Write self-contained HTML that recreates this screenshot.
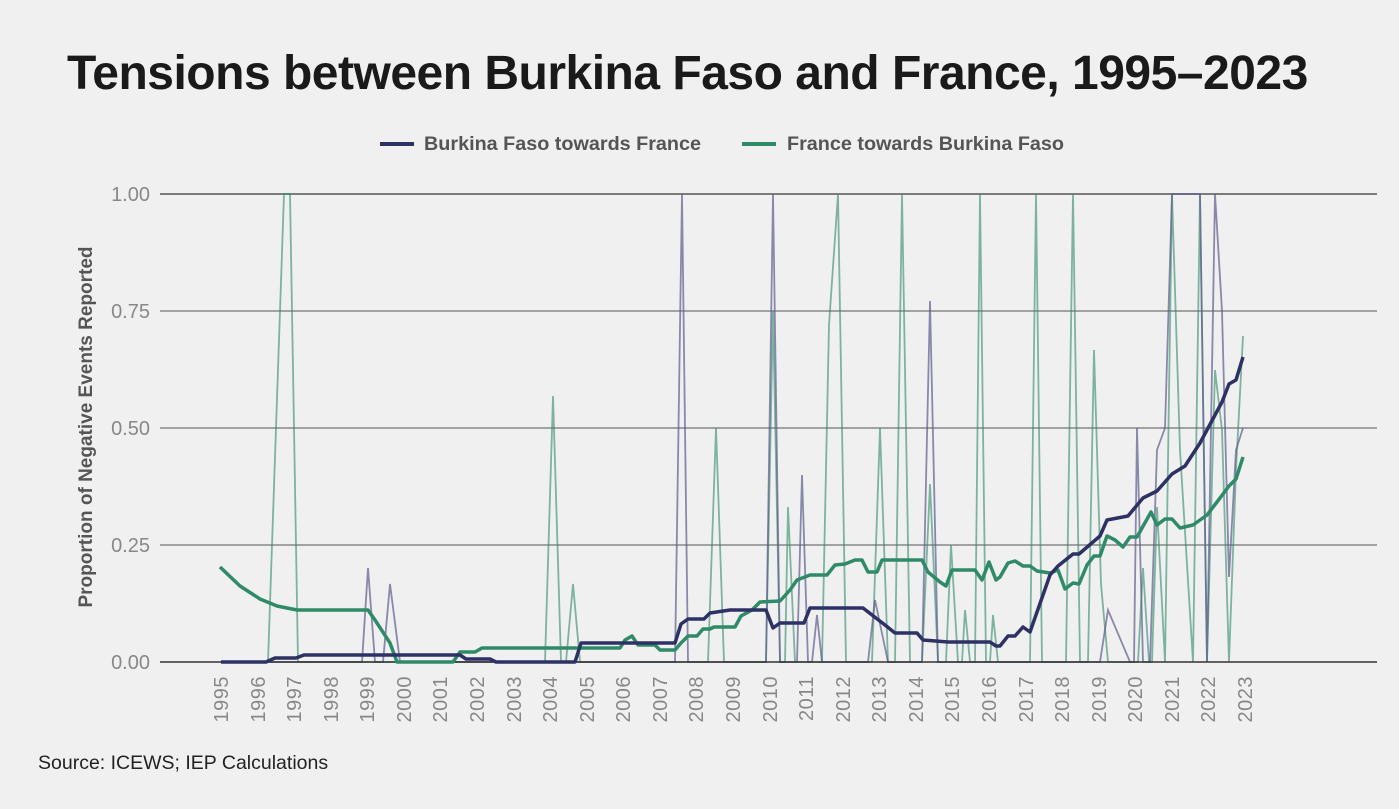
<!DOCTYPE html>
<html><head><style>
body{margin:0;background:#f0f0f0;}
svg{display:block;font-family:"Liberation Sans",sans-serif;}
</style></head><body>
<svg width="1399" height="809" viewBox="0 0 1399 809">
<rect width="1399" height="809" fill="#f0f0f0"/>
<text x="67" y="89" font-size="48" font-weight="bold" fill="#1a1a1a" letter-spacing="-0.5">Tensions between Burkina Faso and France, 1995–2023</text>
<line x1="380" y1="144" x2="414" y2="144" stroke="#2e3164" stroke-width="4"/>
<text x="424" y="150" font-size="19.8" font-weight="bold" fill="#555">Burkina Faso towards France</text>
<line x1="742" y1="144" x2="776" y2="144" stroke="#2f8a68" stroke-width="4"/>
<text x="787" y="150" font-size="19.8" font-weight="bold" fill="#555">France towards Burkina Faso</text>
<g stroke="#888" stroke-width="1.5">
<line x1="160" y1="194" x2="1377" y2="194" stroke="#555"/>
<line x1="160" y1="311" x2="1377" y2="311"/>
<line x1="160" y1="428" x2="1377" y2="428"/>
<line x1="160" y1="545" x2="1377" y2="545"/>
</g>
<g font-size="20" fill="#888" text-anchor="end">
<text x="150" y="201">1.00</text><text x="150" y="318">0.75</text><text x="150" y="435">0.50</text><text x="150" y="552">0.25</text><text x="150" y="669">0.00</text>
</g>
<text transform="translate(92,427) rotate(-90)" font-size="19" font-weight="bold" fill="#555" text-anchor="middle">Proportion of Negative Events Reported</text>
<g font-size="20" fill="#888" text-anchor="end" letter-spacing="0.5">
<text transform="translate(228,676) rotate(-90)">1995</text>
<text transform="translate(265,676) rotate(-90)">1996</text>
<text transform="translate(301,676) rotate(-90)">1997</text>
<text transform="translate(338,676) rotate(-90)">1998</text>
<text transform="translate(374,676) rotate(-90)">1999</text>
<text transform="translate(411,676) rotate(-90)">2000</text>
<text transform="translate(447,676) rotate(-90)">2001</text>
<text transform="translate(484,676) rotate(-90)">2002</text>
<text transform="translate(521,676) rotate(-90)">2003</text>
<text transform="translate(557,676) rotate(-90)">2004</text>
<text transform="translate(594,676) rotate(-90)">2005</text>
<text transform="translate(630,676) rotate(-90)">2006</text>
<text transform="translate(667,676) rotate(-90)">2007</text>
<text transform="translate(703,676) rotate(-90)">2008</text>
<text transform="translate(740,676) rotate(-90)">2009</text>
<text transform="translate(777,676) rotate(-90)">2010</text>
<text transform="translate(813,676) rotate(-90)">2011</text>
<text transform="translate(850,676) rotate(-90)">2012</text>
<text transform="translate(886,676) rotate(-90)">2013</text>
<text transform="translate(923,676) rotate(-90)">2014</text>
<text transform="translate(959,676) rotate(-90)">2015</text>
<text transform="translate(996,676) rotate(-90)">2016</text>
<text transform="translate(1033,676) rotate(-90)">2017</text>
<text transform="translate(1069,676) rotate(-90)">2018</text>
<text transform="translate(1106,676) rotate(-90)">2019</text>
<text transform="translate(1142,676) rotate(-90)">2020</text>
<text transform="translate(1179,676) rotate(-90)">2021</text>
<text transform="translate(1215,676) rotate(-90)">2022</text>
<text transform="translate(1252,676) rotate(-90)">2023</text>
</g>
<polyline fill="none" stroke="#2f8a68" stroke-opacity="0.6" stroke-width="1.8" points="221,662 268,662 284,194 290,194 298,662 545,662 553,396 561,662 566,662 573,584 580,662 708,662 716,428 724,662 766,662 773,311 780,662 785,662 788,507 795,662 822,662 829,325 838,194 846,662 872,662 880,428 888,662 895,662 902,194 910,662 922,662 930,484 938,662 946,662 951,545 958,662 962,662 965,610 970,662 975,662 980,194 986,662 990,662 993,615 998,662 1030,662 1036,194 1042,662 1066,662 1073,194 1080,662 1088,662 1094,350 1101,584 1108,662 1138,662 1143,568 1149,662 1152,662 1157,507 1165,662 1172,194 1180,450 1193,662 1200,194 1207,662 1215,370 1222,430 1229,662 1236,470 1243,336"/>
<polyline fill="none" stroke="#5b5c8c" stroke-opacity="0.7" stroke-width="1.8" points="221,662 362,662 368,568 375,662 383,662 390,584 400,662 675,662 682,194 688,662 766,662 773,194 780,662 797,662 802,475 808,662 812,662 817,615 822,662 868,662 875,600 888,662 922,662 930,301 938,662 1100,662 1108,610 1130,662 1134,662 1137,428 1143,662 1150,662 1157,450 1165,428 1172,194 1200,194 1207,662 1215,194 1222,311 1229,577 1236,450 1243,428"/>
<line x1="160" y1="662" x2="1377" y2="662" stroke="#333" stroke-width="1.5"/>
<polyline fill="none" stroke="#2f8a68" stroke-width="3.5" stroke-linejoin="round" points="220,567 240,586 260,599 277,606 297,610 368,610 375,620 390,643 397,662 453,662 460,652 475,652 482,648 620,648 625,640 632,636 638,645 655,645 660,650 675,650 681,643 688,636 697,636 703,629 710,629 714,627 735,627 741,616 752,610 760,602 780,601 790,590 797,580 810,575 827,575 835,565 845,564 855,560 862,560 868,572 877,572 882,560 922,560 928,572 940,582 946,586 952,570 975,570 982,580 989,562 996,580 1000,577 1008,563 1015,561 1023,566 1030,566 1037,571 1050,573 1058,570 1065,589 1073,583 1079,584 1087,565 1094,556 1100,556 1107,536 1115,540 1123,547 1130,537 1137,537 1151,512 1157,525 1165,519 1172,519 1180,528 1193,525 1207,515 1217,502 1229,486 1236,479 1243,457"/>
<polyline fill="none" stroke="#2e3164" stroke-width="3.5" stroke-linejoin="round" points="221,662 266,662 275,658 296,658 304,655 460,655 466,659 490,659 496,662 575,662 581,643 675,643 681,624 688,619 704,619 710,613 730,610 766,610 773,628 780,623 804,623 810,608 863,608 885,625 895,633 917,633 923,640 948,642 990,642 996,646 1000,646 1008,636 1015,636 1023,627 1030,632 1050,575 1058,566 1073,554 1079,554 1100,536 1107,520 1128,516 1143,498 1157,491 1172,474 1185,466 1200,443 1222,402 1229,384 1236,380 1243,357"/>
<text x="38" y="769" font-size="19.5" fill="#222">Source: ICEWS; IEP Calculations</text>
</svg>
</body></html>
